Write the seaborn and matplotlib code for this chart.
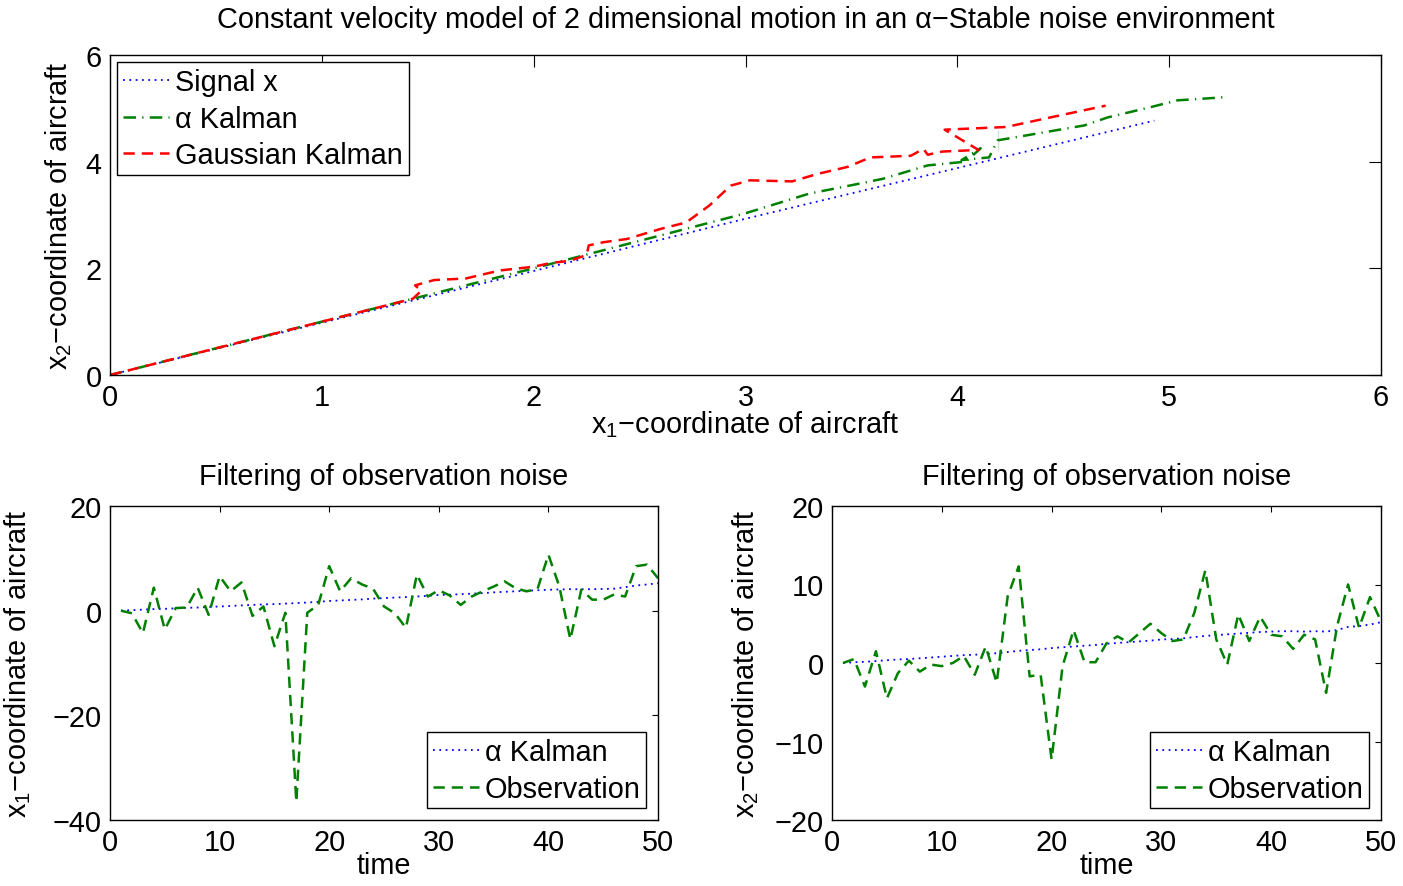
import numpy as np
import pandas as pd
import matplotlib
matplotlib.use("Agg")
import matplotlib.pyplot as plt
import seaborn as sns

# ---------------- data ----------------
# Top panel: trajectories (x1, x2)
signal_x1 = [0.0, 1.0, 2.0, 3.0, 4.0, 4.93]
signal_x2 = [0.0, 0.98, 1.95, 2.93, 3.88, 4.77]

alpha_x1 = [0.0, 1.0, 2.0, 2.99, 3.30, 3.49, 3.65, 3.86, 4.04, 4.11, 4.02, 4.15, 4.19,
            4.19, 4.60, 4.71, 4.91, 5.04, 5.27]
alpha_x2 = [0.0, 1.0, 2.0, 3.02, 3.40, 3.55, 3.68, 3.93, 4.00, 4.25, 4.03, 4.08, 4.20,
            4.60, 4.68, 4.83, 5.02, 5.15, 5.21]

gauss_x1 = [0.0, 1.0, 1.43, 1.47, 1.44, 1.53, 1.68, 1.84, 2.00, 2.08, 2.17, 2.25, 2.26,
            2.33, 2.44, 2.60, 2.72, 2.83, 2.93, 3.02, 3.22, 3.34, 3.48, 3.59, 3.78,
            3.84, 3.86, 3.93, 4.10, 3.93, 3.94, 4.23, 4.44, 4.70]
gauss_x2 = [0.0, 1.0, 1.43, 1.58, 1.68, 1.78, 1.81, 1.96, 2.03, 2.10, 2.14, 2.25, 2.43,
            2.49, 2.55, 2.74, 2.86, 3.18, 3.55, 3.65, 3.63, 3.77, 3.90, 4.08, 4.11,
            4.24, 4.13, 4.18, 4.22, 4.20, 4.60, 4.65, 4.83, 5.05]

# Bottom panels: time series
time = list(range(1, 51))
kalman_x1 = [0.0, 0.1, 0.2, 0.3, 0.35, 0.45, 0.55, 0.6, 0.7, 0.8,
             0.9, 1.0, 1.1, 1.2, 1.25, 1.35, 1.45, 1.55, 1.7, 1.85,
             1.95, 2.05, 2.15, 2.3, 2.4, 2.5, 2.6, 2.7, 2.85, 3.0,
             3.05, 3.15, 3.25, 3.35, 3.5, 3.6, 3.7, 3.8, 3.9, 4.0,
             4.05, 4.1, 4.1, 4.1, 4.15, 4.2, 4.5, 4.8, 5.0, 5.25]
obs_x1 = [0.0, -0.5, -4.3, 4.4, -3.6, 0.5, 0.6, 4.4, -0.8, 6.6,
          3.7, 5.4, -1.0, 0.8, -6.8, -0.4, -36.5, -0.4, 1.1, 8.5,
          3.7, 6.2, 5.0, 4.2, 0.8, -0.5, -3.3, 6.9, 2.7, 3.9,
          2.9, 1.1, 2.7, 3.7, 4.6, 5.6, 4.3, 3.7, 4.1, 10.7,
          4.6, -5.5, 4.0, 2.1, 2.1, 3.1, 2.7, 8.5, 8.8, 6.2]
kalman_x2 = [0.0, 0.1, 0.15, 0.25, 0.35, 0.45, 0.5, 0.6, 0.7, 0.8,
             0.9, 1.0, 1.05, 1.15, 1.25, 1.4, 1.55, 1.65, 1.75, 1.9,
             2.0, 2.1, 2.2, 2.3, 2.45, 2.55, 2.65, 2.75, 2.85, 3.0,
             3.05, 3.15, 3.3, 3.45, 3.55, 3.65, 3.75, 3.85, 3.95, 4.0,
             4.05, 4.05, 4.0, 4.05, 4.0, 4.2, 4.6, 4.7, 4.9, 5.2]
obs_x2 = [0.0, 0.5, -3.0, 1.5, -4.5, -1.3, 0.3, -1.1, -0.2, -0.4,
          0.0, 0.9, -1.5, 2.1, -2.5, 8.5, 12.3, -1.7, -1.5, -12.3,
          -0.4, 4.2, 0.1, 0.1, 2.5, 3.4, 2.6, 3.8, 5.0, 3.8,
          2.8, 3.0, 6.4, 11.8, 3.0, -0.2, 6.2, 2.8, 5.9, 3.6,
          3.4, 1.8, 3.6, 3.0, -3.8, 4.7, 10.0, 4.5, 8.4, 5.3]

title_top = "Constant velocity model of 2 dimensional motion in an \u03b1\u2212Stable noise environment"
title_bottom = "Filtering of observation noise"

# ---------------- style ----------------
sns.set_theme(style="white")
plt.rcParams["font.family"] = ["Liberation Sans", "DejaVu Sans"]
plt.rcParams["axes.unicode_minus"] = True
plt.rcParams["text.color"] = "black"
plt.rcParams["axes.labelcolor"] = "black"
FS = 20.8

BLUE = (0, 0, 1)
GREEN = (0, 0.5, 0)
RED = (1, 0, 0)

fig = plt.figure(figsize=(14.03, 8.87), dpi=100)
ax_top = fig.add_axes([110/1403, 1-376/887, 1271/1403, 320/887])
ax_bl = fig.add_axes([110/1403, 1-821/887, 548/1403, 314/887])
ax_br = fig.add_axes([832/1403, 1-821/887, 549/1403, 314/887])

def style_axes(ax, ticklen):
    for s in ax.spines.values():
        s.set_visible(True)
        s.set_color("black")
        s.set_linewidth(1.0)
    ax.tick_params(direction="in", top=True, right=True, length=ticklen, width=0.8,
                   labelsize=FS, colors="black", labelcolor="black", pad=6)
    ax.grid(False)
    ax.set_facecolor("white")

def style_legend(lg):
    lg.get_frame().set_linewidth(1.0)
    for t in lg.get_texts():
        t.set_color("black")

# top panel
sns.lineplot(x=signal_x1, y=signal_x2, sort=False, ax=ax_top, color=BLUE, lw=1.3,
             linestyle=(0, (1, 2.5)), label="Signal x")
sns.lineplot(x=alpha_x1, y=alpha_x2, sort=False, ax=ax_top, color=GREEN, lw=1.8,
             linestyle=(0, (5, 2.5, 0.5, 2.5)), label="\u03b1 Kalman")
sns.lineplot(x=gauss_x1, y=gauss_x2, sort=False, ax=ax_top, color=RED, lw=1.8,
             linestyle=(0, (4.5, 2.8)), label="Gaussian Kalman")
ax_top.set_xlim(0, 6)
ax_top.set_ylim(0, 6)
ax_top.set_xticks(range(0, 7))
ax_top.set_yticks([0, 2, 4, 6])
style_axes(ax_top, 8.5)
ax_top.set_title(title_top, fontsize=FS, pad=20, color="black")
ax_top.set_xlabel(r"$\mathregular{x_1}$" + "\u2212coordinate of aircraft",
                  fontsize=FS, labelpad=-2)
ax_top.set_ylabel(r"$\mathregular{x_2}$" + "\u2212coordinate of aircraft", fontsize=FS, labelpad=8)
leg = ax_top.legend(loc="upper left", fontsize=FS, frameon=True, fancybox=False,
                    edgecolor="black", framealpha=1, handlelength=1.6, handletextpad=0.2,
                    labelspacing=0.3, borderpad=0.2, borderaxespad=0.25)
style_legend(leg)

# bottom panels
for ax, kal, obs, ylim, yticks, ylab, lpad in [
    (ax_bl, kalman_x1, obs_x1, (-40, 20), [-40, -20, 0, 20], "x_1", 14),
    (ax_br, kalman_x2, obs_x2, (-20, 20), [-20, -10, 0, 10, 20], "x_2", 10),
]:
    sns.lineplot(x=time, y=kal, ax=ax, color=BLUE, lw=1.3, linestyle=(0, (1, 2.5)),
                 label="\u03b1 Kalman")
    sns.lineplot(x=time, y=obs, ax=ax, color=GREEN, lw=1.8, linestyle=(0, (4.5, 2.8)),
                 label="Observation")
    ax.set_xlim(0, 50)
    ax.set_ylim(*ylim)
    ax.set_xticks(range(0, 51, 10))
    ax.set_yticks(yticks)
    style_axes(ax, 4.5)
    ax.set_title(title_bottom, fontsize=FS, pad=16, color="black")
    ax.set_xlabel("time", fontsize=FS, labelpad=-4)
    ax.set_ylabel(r"$\mathregular{" + ylab + "}$" + "\u2212coordinate of aircraft",
                  fontsize=FS, labelpad=lpad)
    lg = ax.legend(loc="lower right", fontsize=FS, frameon=True, fancybox=False,
                   edgecolor="black", framealpha=1, handlelength=1.6, handletextpad=0.2,
                   labelspacing=0.3, borderpad=0.2, borderaxespad=0.4)
    style_legend(lg)

fig.savefig("out.png", dpi=100, facecolor="white")
